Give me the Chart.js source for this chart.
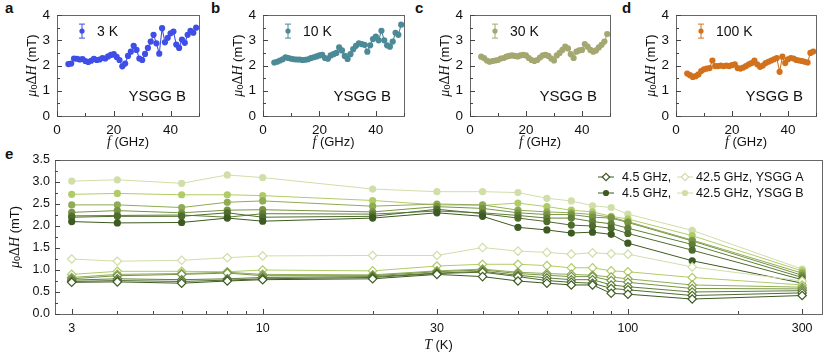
<!DOCTYPE html>
<html>
<head>
<meta charset="utf-8">
<script src="https://cdn.jsdelivr.net/npm/chart.js@4"></script>
<style>
  body { margin: 0; background: #fff; }
  #wrap { position: relative; width: 837px; height: 357px; overflow: hidden; }
  canvas { position: absolute; }
  .lab { position: absolute; font: bold 15px "Liberation Sans", Arial, sans-serif; color: #111; }
</style>
</head>
<body>
<div id="wrap">
  <div class="lab" style="left:5px;top:-1px">a</div>
  <div class="lab" style="left:211px;top:-1px">b</div>
  <div class="lab" style="left:415px;top:-1px">c</div>
  <div class="lab" style="left:622px;top:-1px">d</div>
  <div class="lab" style="left:5px;top:145px">e</div>
  <canvas id="pa" width="205" height="150" style="left:0px;top:0px"></canvas>
  <canvas id="pb" width="204" height="150" style="left:206px;top:0px"></canvas>
  <canvas id="pc" width="203" height="150" style="left:413px;top:0px"></canvas>
  <canvas id="pd" width="203" height="150" style="left:619px;top:0px"></canvas>
  <canvas id="pe" width="837" height="212" style="left:0px;top:145px"></canvas>
</div>
<script>
// frequencies (GHz) for panels a-d
const freqGHz = [4,5,6,7,8,9,10,11,12,13,14,15,16,17,18,19,20,21,22,23,24,25,26,
                 27,28,29,30,31,32,33,34,35,36,37,38,39,40,41,42,43,44,45,46,47,48,49];
// linewidth mu0*dH (mT) vs f, YSGG B
const dH_3K   = [2.06,2.08,2.28,2.27,2.24,2.26,2.18,2.14,2.19,2.27,2.22,2.24,2.30,2.28,2.36,2.42,2.45,2.34,2.22,1.97,2.08,2.38,2.55,
                 2.78,2.62,2.28,2.22,2.46,2.70,2.95,3.22,2.88,2.47,3.48,2.92,3.10,3.28,3.35,2.83,2.70,3.03,2.90,3.22,3.38,3.30,3.50];
const dH_10K  = [2.12,2.15,2.20,2.25,2.33,2.30,2.27,2.25,2.24,2.24,2.22,2.23,2.25,2.30,2.33,2.36,2.40,2.42,2.30,2.27,2.40,2.45,2.50,
                 2.72,2.60,2.38,2.26,2.45,2.65,2.78,2.88,2.85,2.82,2.55,2.80,3.05,3.15,3.00,3.38,3.00,2.80,2.75,2.95,3.30,3.22,3.62];
const dH_30K  = [2.35,2.30,2.20,2.15,2.18,2.20,2.22,2.28,2.30,2.35,2.38,2.40,2.38,2.36,2.40,2.42,2.40,2.30,2.22,2.18,2.22,2.32,2.40,
                 2.42,2.38,2.28,2.20,2.40,2.50,2.62,2.75,2.68,2.45,2.30,2.55,2.60,2.62,2.85,2.75,2.62,2.55,2.60,2.72,2.82,2.95,3.25];
const dH_100K = [1.68,1.62,1.55,1.58,1.65,1.78,1.85,1.88,1.90,2.20,1.98,1.98,2.00,1.98,2.00,1.98,2.02,2.05,1.90,1.88,1.92,1.98,2.05,
                 2.10,2.20,2.05,1.95,2.00,2.10,2.15,2.20,2.25,2.30,1.75,2.35,2.10,2.25,2.30,2.28,2.22,2.20,2.18,2.15,2.12,2.50,2.55];

// panel e: temperature (K)
const tempK = [3,4,6,8,10,20,30,40,50,60,70,80,90,100,150,300];
const tTicks = [3,4,5,6,7,8,9,10,20,30,40,50,60,70,80,90,100,200,300];
const tLabels = [3,10,30,100,300];
// YSGG A, from 4.5 GHz (dark) to 42.5 GHz (light)
const ysggA1 = [0.72,0.73,0.70,0.75,0.78,0.80,0.90,0.85,0.75,0.70,0.66,0.66,0.47,0.45,0.34,0.42];
const ysggA2 = [0.74,0.76,0.74,0.77,0.80,0.83,0.92,0.95,0.85,0.76,0.72,0.70,0.58,0.55,0.42,0.48];
const ysggA3 = [0.77,0.80,0.78,0.80,0.83,0.85,0.93,0.97,0.88,0.82,0.78,0.78,0.66,0.62,0.50,0.53];
const ysggA4 = [0.80,0.87,0.90,0.93,0.87,0.87,0.96,1.00,0.92,0.88,0.85,0.85,0.76,0.72,0.58,0.57];
const ysggA5 = [0.83,0.90,0.92,0.95,0.90,0.89,0.98,1.02,0.95,0.92,0.90,0.88,0.84,0.80,0.66,0.61];
const ysggA6 = [0.90,0.97,0.97,0.96,1.00,0.98,1.09,1.13,1.13,1.10,1.05,1.05,0.98,0.96,0.83,0.66];
const ysggA7 = [1.25,1.20,1.22,1.28,1.32,1.33,1.33,1.51,1.43,1.40,1.36,1.39,1.37,1.36,1.07,0.75];
// YSGG B, from 4.5 GHz (dark) to 42.5 GHz (light)
const ysggB1 = [2.10,2.07,2.08,2.18,2.11,2.18,2.30,2.22,1.97,1.91,1.84,1.86,1.81,1.61,1.21,0.70];
const ysggB2 = [2.20,2.22,2.22,2.30,2.20,2.22,2.38,2.28,2.18,2.10,2.02,2.00,1.95,1.83,1.45,0.78];
const ysggB3 = [2.23,2.24,2.25,2.20,2.28,2.27,2.34,2.30,2.24,2.18,2.18,2.10,2.05,1.95,1.58,0.83];
const ysggB4 = [2.31,2.35,2.30,2.36,2.37,2.32,2.44,2.40,2.30,2.26,2.26,2.20,2.18,2.08,1.66,0.88];
const ysggB5 = [2.48,2.48,2.42,2.54,2.57,2.45,2.50,2.48,2.36,2.32,2.30,2.26,2.20,2.10,1.68,0.93];
const ysggB6 = [2.72,2.74,2.71,2.71,2.69,2.58,2.48,2.47,2.52,2.44,2.36,2.32,2.22,2.16,1.78,0.98];
const ysggB7 = [3.02,3.05,2.97,3.16,3.10,2.84,2.78,2.78,2.76,2.63,2.57,2.46,2.42,2.27,1.90,1.02];

const greens = ['#3c5a22','#4e6c2c','#617e37','#779445','#8fac55','#b0cc66','#d0dea8'];
const SANS = '"Liberation Sans", Arial, sans-serif';
const SERIF = '"Liberation Serif", "Times New Roman", serif';

Chart.defaults.font.family = SANS;
Chart.defaults.color = '#111';

// mixed-style text (italic symbols, subscripts)
function drawParts(ctx, parts, cx, cy, rotate) {
    ctx.save();
    ctx.translate(cx, cy);
    if (rotate) ctx.rotate(-Math.PI / 2);
    let w = 0;
    parts.forEach(p => { ctx.font = p.font; w += ctx.measureText(p.text).width; });
    let x = -w / 2;
    ctx.textBaseline = 'middle';
    ctx.textAlign = 'left';
    ctx.fillStyle = '#111';
    parts.forEach(p => {
        ctx.font = p.font;
        ctx.fillText(p.text, x, p.dy || 0);
        x += ctx.measureText(p.text).width;
    });
    ctx.restore();
}

function yTitleParts(sz) {
    return [
        { text: 'μ', font: `italic ${sz + 1}px ${SERIF}` },
        { text: '0', font: `${sz - 4}px ${SANS}`, dy: 3 },
        { text: 'Δ', font: `${sz + 1}px ${SERIF}` },
        { text: 'H', font: `italic ${sz + 1}px ${SERIF}` },
        { text: ' (mT)', font: `${sz}px ${SANS}` }
    ];
}

const frame = {
    id: 'frame',
    afterDraw(chart, args, opts) {
        const { ctx, chartArea: a } = chart;
        const xs = chart.scales.x, ys = chart.scales.y;
        ctx.save();
        ctx.strokeStyle = '#666';
        ctx.lineWidth = 1;
        ctx.strokeRect(Math.round(a.left) + 0.5, Math.round(a.top) + 0.5,
                       Math.round(a.right - a.left), Math.round(a.bottom - a.top));
        // inward tick marks
        ctx.strokeStyle = '#444';
        ctx.beginPath();
        xs.ticks.forEach(t => {
            const px = Math.round(xs.getPixelForValue(t.value)) + 0.5;
            const len = t.label ? 5 : 3;
            ctx.moveTo(px, a.bottom);
            ctx.lineTo(px, a.bottom - len);
        });
        ys.ticks.forEach(t => {
            const py = Math.round(ys.getPixelForValue(t.value)) + 0.5;
            const len = t.label ? 5 : 3;
            ctx.moveTo(a.left, py);
            ctx.lineTo(a.left + len, py);
        });
        ctx.stroke();
        ctx.restore();

        drawParts(ctx, opts.yTitle, a.left - opts.yTitleOff, (a.top + a.bottom) / 2, true);
        drawParts(ctx, opts.xTitle, (a.left + a.right) / 2, a.bottom + opts.xTitleOff, false);

        if (opts.tempLabel) {
            // error-bar legend symbol
            const lx = a.left + 25, ly = a.top + 16;
            ctx.save();
            ctx.strokeStyle = opts.color;
            ctx.fillStyle = opts.color;
            ctx.lineWidth = 1;
            ctx.beginPath();
            ctx.moveTo(lx, ly - 7); ctx.lineTo(lx, ly + 7);
            ctx.moveTo(lx - 3, ly - 7); ctx.lineTo(lx + 3, ly - 7);
            ctx.moveTo(lx - 3, ly + 7); ctx.lineTo(lx + 3, ly + 7);
            ctx.stroke();
            ctx.beginPath();
            ctx.arc(lx, ly, 2.6, 0, Math.PI * 2);
            ctx.fill();
            ctx.fillStyle = '#111';
            ctx.font = `14px ${SANS}`;
            ctx.textBaseline = 'middle';
            ctx.fillText(opts.tempLabel, lx + 15, ly + 1);
            ctx.textAlign = 'right';
            ctx.font = `15px ${SANS}`;
            ctx.fillText('YSGG B', a.right - 13, a.bottom - 19);
            ctx.restore();
        }

        if (opts.rows) {
            ctx.save();
            opts.rows.forEach((r, i) => {
                const y = a.top + 17 + i * 16;
                [[r.dark, a.right - 216], [r.light, a.right - 137]].forEach(([di, x]) => {
                    const ds = chart.data.datasets[di];
                    ctx.strokeStyle = ds.borderColor;
                    ctx.lineWidth = 1;
                    ctx.beginPath();
                    ctx.moveTo(x - 8, y); ctx.lineTo(x + 8, y);
                    ctx.stroke();
                    ctx.fillStyle = ds.pointBackgroundColor;
                    ctx.lineWidth = ds.pointBorderWidth;
                    Chart.helpers.drawPoint(ctx, {
                        pointStyle: ds.pointStyle, radius: ds.pointRadius - 0.5,
                        rotation: 0, borderWidth: ds.pointBorderWidth
                    }, x, y);
                });
                ctx.fillStyle = '#111';
                ctx.font = `12.5px ${SANS}`;
                ctx.textBaseline = 'middle';
                ctx.textAlign = 'left';
                ctx.fillText(r.text1, a.right - 200, y + 1);
                ctx.fillText(r.text2, a.right - 126, y + 1);
            });
            ctx.restore();
        }
    }
};
Chart.register(frame);

function makeTop(id, tempLabel, values, color) {
    return new Chart(document.getElementById(id), {
        type: 'line',
        data: {
            datasets: [{
                data: freqGHz.map((f, i) => ({ x: f, y: values[i] })),
                borderColor: color,
                backgroundColor: color,
                borderWidth: 1.1,
                pointRadius: 3.1,
                pointBorderWidth: 0
            }]
        },
        options: {
            responsive: false,
            animation: false,
            layout: { padding: { left: 0, right: 2, top: 13, bottom: 0 } },
            plugins: {
                legend: { display: false },
                tooltip: { enabled: false },
                frame: {
                    yTitle: yTitleParts(13), yTitleOff: 25,
                    xTitle: [
                        { text: 'f', font: `italic 14px ${SERIF}` },
                        { text: ' (GHz)', font: `13px ${SANS}` }
                    ],
                    xTitleOff: 26,
                    tempLabel: tempLabel,
                    color: color
                }
            },
            scales: {
                x: {
                    type: 'linear', min: 0, max: 50,
                    grid: { display: false, drawTicks: false },
                    border: { display: false },
                    ticks: {
                        stepSize: 10, autoSkip: false, maxRotation: 0, padding: 6,
                        font: { size: 13.5 }, color: '#111',
                        callback: v => (v % 20 === 0 ? String(v) : '')
                    },
                    afterFit: s => { s.height = 34; }
                },
                y: {
                    min: 0, max: 4,
                    grid: { display: false, drawTicks: false },
                    border: { display: false },
                    ticks: {
                        stepSize: 0.5, autoSkip: false, padding: 7,
                        font: { size: 13.5 }, color: '#111',
                        callback: v => (Number.isInteger(v) ? String(v) : '')
                    },
                    afterFit: s => { s.width = 57; }
                }
            }
        }
    });
}

makeTop('pa', '3 K', dH_3K, '#3f4ee6');
makeTop('pb', '10 K', dH_10K, '#4b8a96');
makeTop('pc', '30 K', dH_30K, '#a4a870');
makeTop('pd', '100 K', dH_100K, '#d2711c');

const seriesA = [ysggA1, ysggA2, ysggA3, ysggA4, ysggA5, ysggA6, ysggA7];
const seriesB = [ysggB1, ysggB2, ysggB3, ysggB4, ysggB5, ysggB6, ysggB7];
const tempDatasets = [];
seriesA.forEach((vals, i) => {
    tempDatasets.push({
        data: tempK.map((t, j) => ({ x: t, y: vals[j] })),
        borderColor: greens[i],
        pointBorderColor: greens[i],
        pointBackgroundColor: '#fff',
        pointStyle: 'rectRot',
        pointRadius: 4.2,
        pointBorderWidth: 1.2,
        borderWidth: 1
    });
});
seriesB.forEach((vals, i) => {
    tempDatasets.push({
        data: tempK.map((t, j) => ({ x: t, y: vals[j] })),
        borderColor: greens[i],
        pointBorderColor: greens[i],
        pointBackgroundColor: greens[i],
        pointStyle: 'circle',
        pointRadius: 3.6,
        pointBorderWidth: 0,
        borderWidth: 1
    });
});

new Chart(document.getElementById('pe'), {
    type: 'line',
    data: { datasets: tempDatasets },
    options: {
        responsive: false,
        animation: false,
        layout: { padding: { left: 0, right: 15, top: 15, bottom: 0 } },
        plugins: {
            legend: { display: false },
            tooltip: { enabled: false },
            frame: {
                yTitle: yTitleParts(13), yTitleOff: 40,
                xTitle: [
                    { text: 'T', font: `italic 14px ${SERIF}` },
                    { text: ' (K)', font: `13px ${SANS}` }
                ],
                xTitleOff: 31,
                rows: [
                    { dark: 0, light: 6, text1: '4.5 GHz,', text2: '42.5 GHz, YSGG A' },
                    { dark: 7, light: 13, text1: '4.5 GHz,', text2: '42.5 GHz, YSGG B' }
                ]
            }
        },
        scales: {
            x: {
                type: 'logarithmic', min: 2.7, max: 340,
                grid: { display: false, drawTicks: false },
                border: { display: false },
                afterBuildTicks: s => { s.ticks = tTicks.map(v => ({ value: v })); },
                ticks: {
                    autoSkip: false, maxRotation: 0, padding: 7,
                    font: { size: 12.5 }, color: '#111',
                    callback: v => (tLabels.includes(v) ? String(v) : '')
                },
                afterFit: s => { s.height = 43; }
            },
            y: {
                min: 0, max: 3.5,
                grid: { display: false, drawTicks: false },
                border: { display: false },
                ticks: {
                    stepSize: 0.25, autoSkip: false, padding: 5,
                    font: { size: 12.5 }, color: '#111',
                    callback: v => (Number.isInteger(v * 2) ? v.toFixed(1) : '')
                },
                afterFit: s => { s.width = 55; }
            }
        }
    }
});
</script>
</body>
</html>
